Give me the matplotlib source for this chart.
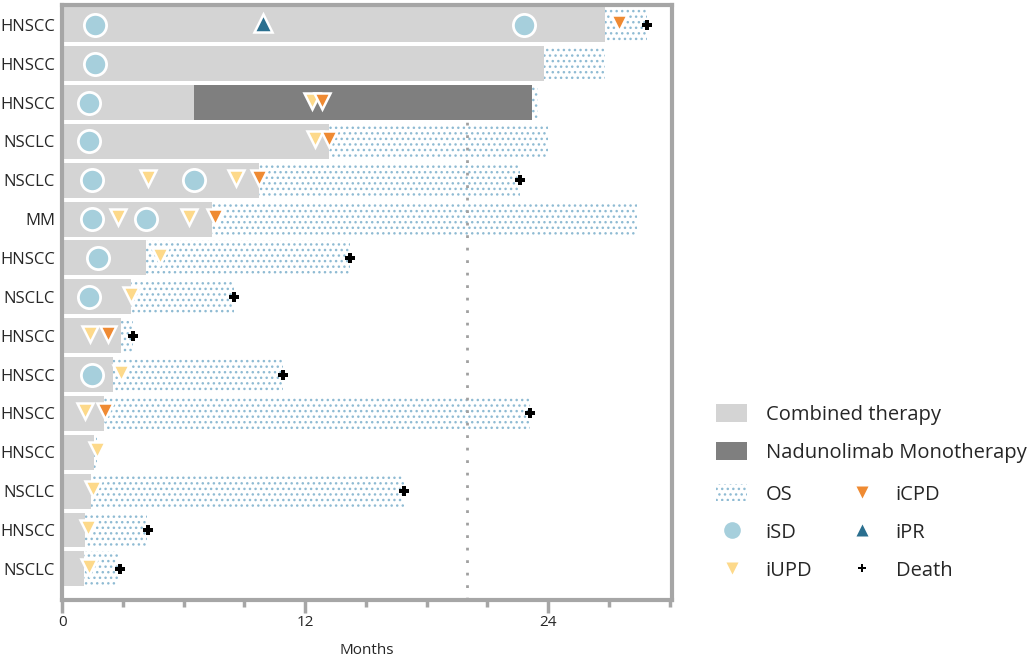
import numpy as np
import matplotlib
matplotlib.use('Agg')
import matplotlib.pyplot as plt
from matplotlib.patches import Patch
from matplotlib.lines import Line2D
from matplotlib.ticker import MultipleLocator

plt.rcParams['font.family'] = ['Open Sans', 'DejaVu Sans']
plt.rcParams['hatch.linewidth'] = 1.0

# Daten (Monate)
tumor = ['HNSCC', 'HNSCC', 'HNSCC', 'NSCLC', 'NSCLC', 'MM', 'HNSCC', 'NSCLC',
         'HNSCC', 'HNSCC', 'HNSCC', 'HNSCC', 'NSCLC', 'HNSCC', 'NSCLC']
combined_end = [26.8, 23.8, 6.5, 13.2, 9.7, 7.4, 4.15, 3.4, 2.9, 2.5, 2.07, 1.58, 1.43, 1.13, 1.1]
mono_end = [0, 0, 23.2, 0, 0, 0, 0, 0, 0, 0, 0, 0, 0, 0, 0]
os_end = [28.9, 26.8, 23.5, 24.0, 22.6, 28.4, 14.2, 8.5, 3.5, 10.9, 23.1, 1.7, 16.9, 4.2, 2.77]
death = [28.9, np.nan, np.nan, np.nan, 22.6, np.nan, 14.2, 8.5, 3.5, 10.9, 23.1, np.nan, 16.9, 4.25, 2.85]

isd_row = [0, 0, 1, 2, 3, 4, 4, 5, 5, 6, 7, 9]
isd_month = [1.6, 22.8, 1.6, 1.33, 1.33, 1.5, 6.5, 1.5, 4.15, 1.78, 1.33, 1.5]
iupd_row = [2, 3, 4, 4, 5, 5, 6, 7, 8, 9, 10, 11, 12, 13, 14]
iupd_month = [12.35, 12.5, 4.25, 8.6, 2.75, 6.27, 4.84, 3.4, 1.4, 2.9, 1.13, 1.73, 1.53, 1.28, 1.33]
icpd_row = [0, 2, 3, 4, 5, 8, 10]
icpd_month = [27.5, 12.85, 13.2, 9.7, 7.55, 2.27, 2.1]
ipr_row = [0]
ipr_month = [9.9]

# Farben
c_comb = '#d4d4d4'
c_mono = '#7f7f7f'
c_os = '#8fbbd3'
c_isd = '#a6cfdc'
c_iupd = '#fdd98a'
c_icpd = '#ef8a32'
c_ipr = '#2a6f8f'
c_spine = '#a6a6a6'
c_text = '#262626'

fig = plt.figure(figsize=(10.35, 6.6), dpi=100)
ax = fig.add_axes([0.060, 0.091, 0.589, 0.902])

rows = np.arange(len(tumor))
h = 0.9

# OS (gepunktet)
ax.barh(rows, os_end, height=h, left=0, facecolor='none', edgecolor=c_os,
        linewidth=0, hatch='...', zorder=1)
# Referenzlinie 20 Monate
ax.axvline(20, color='#a0a0a0', linestyle=(0, (1, 3.5)), linewidth=2, zorder=1.5)
# Kombinationstherapie
ax.barh(rows, combined_end, height=h, left=0, color=c_comb, zorder=2)
# Monotherapie
mono = np.array(mono_end, dtype=float)
comb = np.array(combined_end)
has_mono = mono > 0
ax.barh(rows[has_mono], mono[has_mono] - comb[has_mono], height=h,
        left=comb[has_mono], color=c_mono, zorder=2)

# Ereignisse
ax.plot(isd_month, isd_row, 'o', ms=16, mfc=c_isd, mec='white', mew=2, ls='none', zorder=4)
ax.plot(iupd_month, np.array(iupd_row) - 0.05, 'v', ms=12, mfc=c_iupd, mec='white', mew=1.8, ls='none', zorder=4)
ax.plot(icpd_month, np.array(icpd_row) - 0.05, 'v', ms=12, mfc=c_icpd, mec='white', mew=1.8, ls='none', zorder=5)
ax.plot(ipr_month, np.array(ipr_row) - 0.05, '^', ms=13, mfc=c_ipr, mec='white', mew=1.8, ls='none', zorder=4)
ax.plot(death, rows, 'P', ms=7, color='black', mec='black', mew=0, ls='none', zorder=6)

ax.set_xlim(0, 30.1)
ax.set_ylim(14.8, -0.52)
ax.set_yticks(rows)
ax.set_yticklabels(tumor, fontsize=12, color=c_text)
ax.tick_params(axis='y', length=0, pad=5)
ax.xaxis.set_major_locator(MultipleLocator(12))
ax.xaxis.set_minor_locator(MultipleLocator(3))
ax.tick_params(axis='x', which='major', length=9, width=2.5, color=c_spine,
               labelsize=11, labelcolor=c_text, pad=2)
ax.tick_params(axis='x', which='minor', length=5, width=2.5, color=c_spine)
ax.set_xlabel('Months', fontsize=11, color=c_text, labelpad=9)
for s in ax.spines.values():
    s.set_color(c_spine)
    s.set_linewidth(3)

# Legende
h1 = [Patch(facecolor=c_comb, edgecolor='none'),
      Patch(facecolor=c_mono, edgecolor='none')]
leg1 = fig.legend(h1, ['Combined therapy', 'Nadunolimab Monotherapy'],
                  loc='center left', bbox_to_anchor=(0.692, 0.343),
                  frameon=False, fontsize=14.5, handlelength=1.55, handleheight=0.95,
                  handletextpad=0.9, labelspacing=0.88, borderpad=0, borderaxespad=0)
for t in leg1.get_texts():
    t.set_color(c_text)

h2 = [Patch(facecolor='none', edgecolor=c_os, linewidth=0, hatch='...'),
      Line2D([], [], marker='o', ls='none', ms=12, mfc=c_isd, mec='none'),
      Line2D([], [], marker='v', ls='none', ms=9, mfc=c_iupd, mec='none'),
      Line2D([], [], marker='v', ls='none', ms=9, mfc=c_icpd, mec='none'),
      Line2D([], [], marker='^', ls='none', ms=9, mfc=c_ipr, mec='none'),
      Line2D([], [], marker='P', ls='none', ms=6, color='black', mew=0)]
leg2 = fig.legend(h2, ['OS', 'iSD', 'iUPD', 'iCPD', 'iPR', 'Death'], ncol=2,
                  loc='center left', bbox_to_anchor=(0.692, 0.193),
                  frameon=False, fontsize=14.5, handlelength=1.55, handleheight=0.95,
                  handletextpad=0.9, labelspacing=0.88, columnspacing=1.7,
                  borderpad=0, borderaxespad=0)
for t in leg2.get_texts():
    t.set_color(c_text)

fig.savefig('out.png', dpi=100)
